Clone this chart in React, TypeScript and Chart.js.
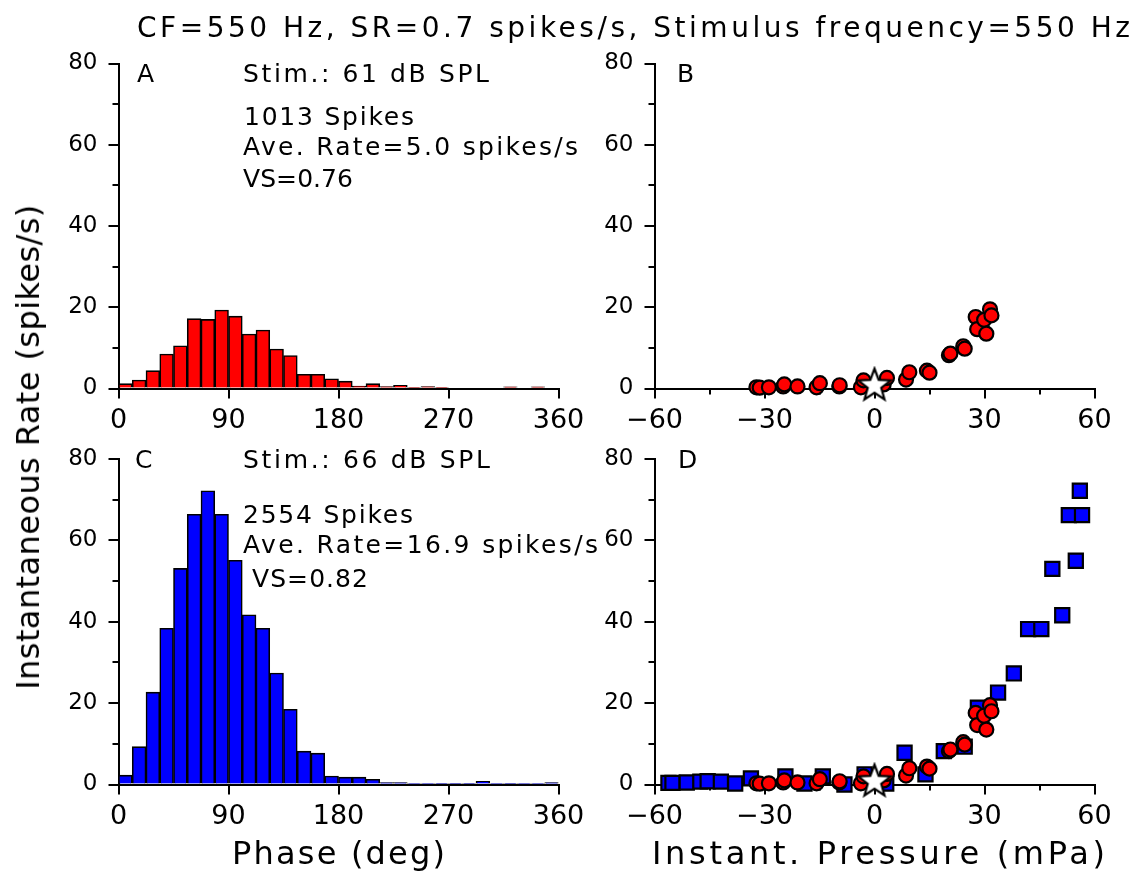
import React, { useEffect, useRef } from 'react';
import { Chart, registerables } from 'chart.js';

Chart.register(...registerables);

const FONT = "'DejaVu Sans', 'Liberation Sans', Arial, sans-serif";
const W = 1134;
const H = 875;

// ---------- DATA ----------
const phaseBinCenters = [
  5.625, 16.875, 28.125, 39.375, 50.625, 61.875, 73.125, 84.375,
  95.625, 106.875, 118.125, 129.375, 140.625, 151.875, 163.125, 174.375,
  185.625, 196.875, 208.125, 219.375, 230.625, 241.875, 253.125, 264.375,
  275.625, 286.875, 298.125, 309.375, 320.625, 331.875, 343.125, 354.375,
];
// Panel A: 61 dB SPL period histogram (spikes/s)
const rateA = [
  1.2, 2.1, 4.4, 8.5, 10.5, 17.2, 17.0, 19.3,
  17.8, 13.4, 14.4, 9.7, 8.1, 3.5, 3.5, 2.4,
  1.8, 0.6, 1.2, 0.5, 0.8, 0.2, 0.5, 0.15,
  0, 0, 0, 0, 0.4, 0, 0.4, 0,
];
// Panel C: 66 dB SPL period histogram (spikes/s)
const rateC = [
  2.3, 9.3, 22.7, 38.4, 53.1, 66.4, 72.2, 66.4,
  55.1, 41.7, 38.4, 27.4, 18.5, 8.2, 7.7, 2.1,
  1.8, 1.8, 1.3, 0.5, 0.5, 0.1, 0.1, 0.3,
  0.3, 0.3, 0.8, 0.1, 0.3, 0.1, 0.1, 0.5,
];
// 61 dB SPL: rate vs instantaneous pressure (red circles)
const pressure61 = [
  -32.2, -31.3, -28.8, -24.9, -24.6, -21.0, -15.8, -14.9, -9.6, -9.5,
  -3.7, -3.0, 2.5, 3.4, 8.6, 9.5, 14.3, 15.0, 20.3, 20.7,
  24.2, 24.6, 27.6, 28.0, 29.9, 30.5, 31.5, 31.9,
];
const rate61 = [
  0.3, 0.2, 0.3, 0.5, 1.0, 0.5, 0.3, 1.3, 0.5, 0.8,
  0.3, 2.0, 1.0, 2.6, 2.2, 4.0, 4.4, 3.9, 8.2, 8.6,
  10.4, 9.8, 17.6, 14.6, 16.9, 13.5, 19.5, 18.0,
];
// 66 dB SPL: rate vs instantaneous pressure (blue squares)
const pressure66 = [
  -56.2, -55.1, -51.2, -47.5, -45.5, -41.9, -38.0, -33.7, -24.3, -19.1,
  -14.1, -8.2, -2.7, 3.2, 8.2, 13.9, 18.9, 24.6, 28.2, 33.7,
  38.0, 41.9, 45.5, 48.5, 51.2, 53.0, 54.9, 56.6, 56.0,
];
const rate66 = [
  0.4, 0.4, 0.5, 0.7, 0.8, 0.7, 0.25, 1.5, 2.0, 0.25,
  2.0, 0.0, 2.5, 0.25, 7.8, 2.5, 8.2, 9.3, 18.9, 22.6,
  27.3, 38.2, 38.2, 53.0, 41.6, 66.2, 55.0, 66.2, 72.2,
];
// spontaneous rate marker (star)
const srPressure = [0];
const srRate = [0.7];

// tick values
const minorRateTicks = [10, 30, 50, 70];
const minorPressureTicks = [-45, -15, 15, 45];

// ---------- LAYOUT ----------
type Box = { left: number; top: number; right: number; bottom: number };
const boxA: Box = { left: 118.5, top: 63.5, right: 558.5, bottom: 388.5 };
const boxB: Box = { left: 654.5, top: 63.5, right: 1094.5, bottom: 388.5 };
const boxC: Box = { left: 118.5, top: 459, right: 558.5, bottom: 784.5 };
const boxD: Box = { left: 654.5, top: 459, right: 1094.5, bottom: 784.5 };
const Y_AXIS_W = 60;
const X_AXIS_H = 50;

const fmt = (v: any) => (Number(v) < 0 ? '\u2212' + Math.abs(Number(v)) : String(v));

const minorTicksPlugin = {
  id: 'minorTicks',
  beforeDatasetsDraw(chart: any, _args: any, opts: any) {
    const { ctx, chartArea, scales } = chart;
    ctx.save();
    ctx.strokeStyle = '#000';
    ctx.lineWidth = 2;
    for (const v of opts.y || []) {
      const py = Math.round(scales.y.getPixelForValue(v));
      ctx.beginPath();
      ctx.moveTo(chartArea.left, py);
      ctx.lineTo(chartArea.left - 6, py);
      ctx.stroke();
    }
    for (const v of opts.x || []) {
      const px = Math.round(scales.x.getPixelForValue(v));
      ctx.beginPath();
      ctx.moveTo(px, chartArea.bottom);
      ctx.lineTo(px, chartArea.bottom + 6);
      ctx.stroke();
    }
    ctx.restore();
  },
};

function baseOptions(box: Box, xMin: number, xMax: number, xStep: number, minorX: number[]) {
  const grid = {
    display: true,
    drawOnChartArea: false,
    drawTicks: true,
    tickLength: 10,
    color: '#000',
    lineWidth: 2,
    offset: false,
  };
  const border = { display: true, color: '#000', width: 2 };
  return {
    responsive: false,
    maintainAspectRatio: false,
    animation: false,
    events: [],
    layout: {
      padding: {
        left: box.left - Y_AXIS_W,
        top: box.top,
        right: W - box.right,
        bottom: H - box.bottom - X_AXIS_H,
      },
    },
    plugins: {
      legend: { display: false },
      tooltip: { enabled: false },
      title: { display: false },
      minorTicks: { x: minorX, y: minorRateTicks },
    },
    scales: {
      x: {
        type: 'linear',
        min: xMin,
        max: xMax,
        offset: false,
        grid,
        border,
        ticks: { stepSize: xStep, font: { family: FONT, size: 27 }, color: '#000', padding: 6, maxRotation: 0, autoSkip: false, callback: fmt },
        afterFit: (s: any) => { s.height = X_AXIS_H; },
      },
      y: {
        type: 'linear',
        min: 0,
        max: 80,
        grid,
        border,
        ticks: { stepSize: 20, font: { family: FONT, size: 23 }, color: '#000', padding: 11, callback: fmt },
        afterFit: (s: any) => { s.width = Y_AXIS_W; },
      },
    },
  };
}

function histConfig(box: Box, values: number[], color: string) {
  return {
    type: 'bar',
    data: {
      datasets: [
        {
          data: phaseBinCenters.map((x, i) => ({ x, y: values[i] })),
          backgroundColor: color,
          borderColor: '#000',
          borderWidth: 1.6,
          barPercentage: 1,
          categoryPercentage: 1,
        },
      ],
    },
    options: baseOptions(box, 0, 360, 90, []),
    plugins: [minorTicksPlugin],
  };
}

function makeStar(R: number) {
  const size = Math.ceil(2 * R + 6);
  const c = document.createElement('canvas');
  c.width = size;
  c.height = size;
  const g = c.getContext('2d')!;
  const cx = size / 2;
  const cy = size / 2;
  const r = R * 0.42;
  g.beginPath();
  for (let k = 0; k < 10; k++) {
    const ang = -Math.PI / 2 + (k * Math.PI) / 5;
    const rr = k % 2 === 0 ? R : r;
    const px = cx + rr * Math.cos(ang);
    const py = cy + rr * Math.sin(ang);
    if (k === 0) g.moveTo(px, py);
    else g.lineTo(px, py);
  }
  g.closePath();
  g.fillStyle = '#fff';
  g.fill();
  g.lineWidth = 2.2;
  g.lineJoin = 'miter';
  g.strokeStyle = '#000';
  g.stroke();
  return c;
}

function scatterConfig(box: Box, withSquares: boolean) {
  const star = makeStar(17);
  const datasets: any[] = [
    {
      label: 'SR',
      data: srPressure.map((x, i) => ({ x, y: srRate[i] })),
      pointStyle: star,
      pointRadius: 17,
      clip: false,
    },
    {
      label: '61 dB',
      data: pressure61.map((x, i) => ({ x, y: rate61[i] })),
      pointStyle: 'circle',
      pointRadius: 7,
      pointBackgroundColor: '#ff0000',
      pointBorderColor: '#000',
      pointBorderWidth: 2.2,
      clip: false,
    },
  ];
  if (withSquares) {
    datasets.push({
      label: '66 dB',
      data: pressure66.map((x, i) => ({ x, y: rate66[i] })),
      pointStyle: 'rect',
      pointRadius: 10,
      pointBackgroundColor: '#0000ff',
      pointBorderColor: '#000',
      pointBorderWidth: 2.2,
      clip: false,
    });
  }
  return {
    type: 'scatter',
    data: { datasets },
    options: baseOptions(box, -60, 60, 30, minorPressureTicks),
    plugins: [minorTicksPlugin],
  };
}

function Panel({ factory }: { factory: () => any }) {
  const ref = useRef<HTMLCanvasElement>(null);
  useEffect(() => {
    const ch = new Chart(ref.current as HTMLCanvasElement, factory());
    return () => ch.destroy();
  }, []);
  return (
    <canvas
      ref={ref}
      width={W}
      height={H}
      style={{ position: 'absolute', left: 0, top: 0, width: W, height: H }}
    />
  );
}

// ---------- TEXT ----------
const ASC = 0.846;
let measureCtx: CanvasRenderingContext2D | null = null;
function spacingFor(text: string, size: number, target: number) {
  if (!measureCtx) measureCtx = document.createElement('canvas').getContext('2d');
  measureCtx!.font = `${size}px ${FONT}`;
  const w = measureCtx!.measureText(text).width;
  return (target - w) / Math.max(1, text.length - 1);
}

function Txt({ text, x, base, size, target }: { text: string; x: number; base: number; size: number; target?: number }) {
  const ls = target ? spacingFor(text, size, target) : 0;
  return (
    <div
      style={{
        position: 'absolute',
        left: x,
        top: base - ASC * size,
        fontFamily: FONT,
        fontSize: size,
        lineHeight: `${size}px`,
        letterSpacing: ls,
        whiteSpace: 'pre',
        color: '#000',
      }}
    >
      {text}
    </div>
  );
}

function VTxt({ text, cx, cy, size, target }: { text: string; cx: number; cy: number; size: number; target: number }) {
  const ls = spacingFor(text, size, target);
  return (
    <div
      style={{
        position: 'absolute',
        left: cx,
        top: cy,
        transform: 'translate(-50%, -50%) rotate(-90deg)',
        fontFamily: FONT,
        fontSize: size,
        lineHeight: `${size}px`,
        letterSpacing: ls,
        whiteSpace: 'pre',
        color: '#000',
      }}
    >
      {text}
    </div>
  );
}

export default function App() {
  return (
    <div style={{ position: 'fixed', left: 0, top: 0, width: W, height: H, background: '#fff', overflow: 'hidden' }}>
      <Panel factory={() => histConfig(boxA, rateA, '#ff0000')} />
      <Panel factory={() => scatterConfig(boxB, false)} />
      <Panel factory={() => histConfig(boxC, rateC, '#0000ff')} />
      <Panel factory={() => scatterConfig(boxD, true)} />

      <Txt text="CF=550 Hz, SR=0.7 spikes/s, Stimulus frequency=550 Hz" x={137} base={38} size={28} target={993} />

      <Txt text="A" x={137} base={82} size={25} />
      <Txt text="Stim.: 61 dB SPL" x={243} base={82} size={25} target={246} />
      <Txt text="1013 Spikes" x={244} base={125} size={25} target={170} />
      <Txt text="Ave. Rate=5.0 spikes/s" x={243} base={155} size={25} target={335} />
      <Txt text="VS=0.76" x={243} base={187} size={25} target={110} />

      <Txt text="B" x={677} base={82} size={25} />

      <Txt text="C" x={135} base={468} size={25} />
      <Txt text="Stim.: 66 dB SPL" x={243} base={468} size={25} target={247} />
      <Txt text="2554 Spikes" x={243} base={523} size={25} target={170} />
      <Txt text="Ave. Rate=16.9 spikes/s" x={243} base={553} size={25} target={355} />
      <Txt text="VS=0.82" x={252} base={587} size={25} target={116} />

      <Txt text="D" x={678} base={468} size={25} />

      <Txt text="Phase (deg)" x={232} base={864} size={32} target={213} />
      <Txt text="Instant. Pressure (mPa)" x={652} base={864} size={32} target={453} />
      <VTxt text="Instantaneous Rate (spikes/s)" cx={28} cy={447} size={32} target={485} />
    </div>
  );
}
